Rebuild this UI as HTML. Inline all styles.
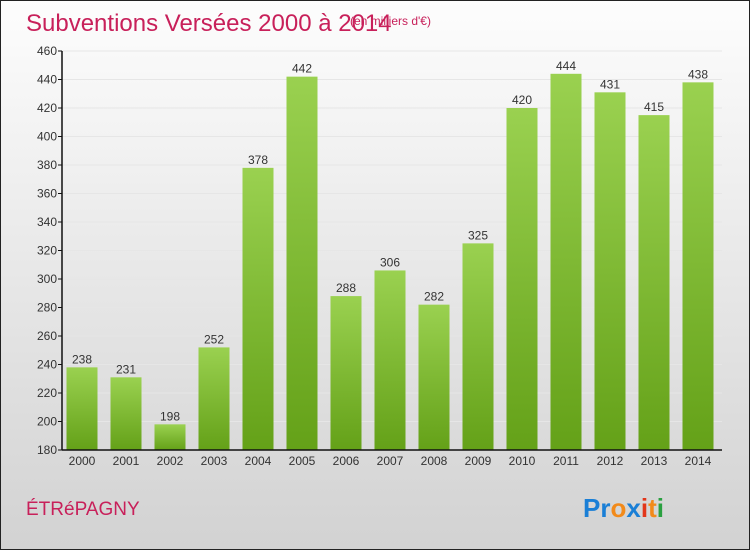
<!DOCTYPE html>
<html><head><meta charset="utf-8"><style>
body{margin:0;background:#fff}
svg{display:block;font-family:"Liberation Sans",sans-serif}
</style></head><body>
<svg id="c" width="750" height="550" viewBox="0 0 750 550">
<defs>
<linearGradient id="bg" x1="0" y1="0" x2="0" y2="1"><stop offset="0" stop-color="#fdfdfd"/><stop offset="1" stop-color="#d2d2d2"/></linearGradient>
<linearGradient id="bar" x1="0" y1="0" x2="0" y2="1"><stop offset="0" stop-color="#9ad150"/><stop offset="1" stop-color="#64a118"/></linearGradient>
</defs>
<rect x="0.5" y="0.5" width="749" height="549" fill="url(#bg)" stroke="#222"/>
<text x="26" y="31" font-size="24" fill="#c8205a">Subventions Versées 2000 à 2014</text>
<text x="350" y="25" font-size="12" fill="#c8205a">(en milliers d'€)</text>
<text x="26" y="515" font-size="19" fill="#c8205a">ÉTRéPAGNY</text>
<g font-size="26" font-weight="bold">
<text x="583" y="517"><tspan fill="#1a7fd6">Pr</tspan><tspan fill="#f28a1a">o</tspan><tspan fill="#1a7fd6">x</tspan><tspan fill="#e2361a">i</tspan><tspan fill="#f28a1a">t</tspan><tspan fill="#2aa040">i</tspan></text>
</g>
<g id="plot"></g>
</svg>
<script>
const years=["2000","2001","2002","2003","2004","2005","2006","2007","2008","2009","2010","2011","2012","2013","2014"];
const values=[238,231,198,252,378,442,288,306,282,325,420,444,431,415,438];
const ticks=[180,200,220,240,260,280,300,320,340,360,380,400,420,440,460];
const NS="http://www.w3.org/2000/svg";
const g=document.getElementById('plot');
const x0=62,x1=722,yb=450,yt=51,vmin=180,vmax=460;
const y=v=>yb-(v-vmin)*(yb-yt)/(vmax-vmin);
const step=(x1-x0)/years.length;
const xc=i=>x0+step*(i+0.5)-2;
function mk(t,a){const e=document.createElementNS(NS,t);for(const k in a)e.setAttribute(k,a[k]);g.appendChild(e);return e;}
ticks.forEach(t=>{
 const l=mk('line',{x1:x0,x2:x1,y1:y(t),y2:y(t),stroke:'#e6e6e6','stroke-width':1});
 
 
});
values.forEach((v,i)=>{
 const r=mk('rect',{x:xc(i)-15.5,y:y(v),width:31,height:yb-y(v),fill:'url(#bar)'});
 
 
 const t=mk('text',{x:xc(i),y:y(v)-4,'text-anchor':'middle','font-size':12,fill:'#333'});
 t.textContent=v;
 
 
 const xl=mk('text',{x:xc(i),y:yb+15,'text-anchor':'middle','font-size':12,fill:'#333'});
 xl.textContent=years[i];
 
 
});
ticks.forEach(t=>{
 const tk=mk('line',{x1:x0-4,x2:x0,y1:y(t),y2:y(t),stroke:'#111'});
 
 
 const tl=mk('text',{x:x0-5,y:y(t)+4,'text-anchor':'end','font-size':12,fill:'#333'});
 tl.textContent=t;
 
 
});
const ya=mk('line',{x1:x0,x2:x0,y1:yt,y2:yb,stroke:'#111','stroke-width':1.5});


const xa=mk('line',{x1:x0,x2:x1,y1:yb,y2:yb,stroke:'#111','stroke-width':1.5});


</script>
</body></html>
